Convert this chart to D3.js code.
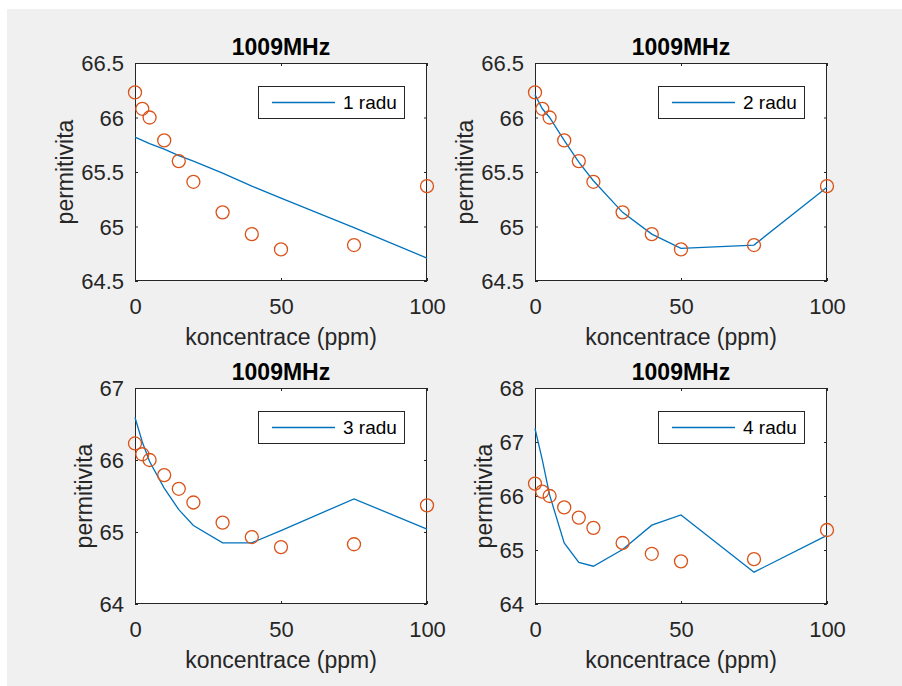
<!DOCTYPE html>
<html>
<head>
<meta charset="utf-8">
<script src="https://cdn.jsdelivr.net/npm/d3@7"></script>
<style>
  body { margin: 0; background: #fff; }
  svg { display: block; font-family: "Liberation Sans", Arial, Helvetica, sans-serif; }
</style>
</head>
<body>
<svg id="fig" width="902" height="686"></svg>
<script>
// ---------- data ----------
let konc = [0, 2.5, 5, 10, 15, 20, 30, 40, 50, 75, 100];

// naměřené body (stejné ve všech 4 grafech)
let merene = [66.23, 66.08, 66.00, 65.79, 65.60, 65.41, 65.13, 64.93, 64.79, 64.83, 65.37];

// proložení polynomem 1. až 4. řádu
let fit1 = [65.82, 65.79, 65.76, 65.71, 65.65, 65.60, 65.49, 65.37, 65.26, 64.99, 64.71];
let fit2 = [66.21, 66.08, 66.00, 65.79, 65.59, 65.42, 65.13, 64.93, 64.80, 64.83, 65.36];
let fit3 = [66.59, 66.25, 65.98, 65.61, 65.31, 65.09, 64.85, 64.85, 65.02, 65.46, 65.04];
let fit4 = [67.25, 66.67, 66.02, 65.13, 64.77, 64.70, 65.01, 65.46, 65.65, 64.59, 65.27];

let nazvy = ["1 radu", "2 radu", "3 radu", "4 radu"];
let titulek = "1009MHz";
let xPopis = "koncentrace (ppm)";
let yPopis = "permitivita";

let xTicky = [0, 50, 100];
let yDomeny = [[64.5, 66.5], [64.5, 66.5], [64, 67], [64, 68]];
let yTicky = [
  [64.5, 65, 65.5, 66, 66.5],
  [64.5, 65, 65.5, 66, 66.5],
  [64, 65, 66, 67],
  [64, 65, 66, 67, 68]
];

// ---------- vzhled ----------
let BLUE = "#0072BD";
let ORANGE = "#D95319";
let AXC = "#262626";
let FS_TICK = 22, FS_POPIS = 23, FS_LEG = 19;

let svg = d3.select("#fig");

// šedé pozadí figury
svg.append("rect")
  .attr("x", 7).attr("y", 9)
  .attr("width", 895).attr("height", 677)
  .attr("fill", "#f0f0f0");

// pozice os (levý, horní, šířka, výška)
let panely = [
  { x: 135, y: 63, w: 292, h: 218 },
  { x: 535, y: 63, w: 292, h: 218 },
  { x: 135, y: 388, w: 292, h: 216 },
  { x: 535, y: 388, w: 292, h: 216 }
];

let fity = [fit1, fit2, fit3, fit4];

function kresliGraf(p, fit, yDom, yT, nazev){
  let g = svg.append("g").attr("transform", `translate(${p.x},${p.y})`);

  let x = d3.scaleLinear().domain([0, 100]).range([0, p.w]);
  let y = d3.scaleLinear().domain(yDom).range([p.h, 0]);

  g.append("rect")
    .attr("width", p.w).attr("height", p.h)
    .attr("fill", "#fff");

  // osy - ticky dovnitř na všech stranách
  let tl = 3;
  let osaX = g.append("g").attr("transform", `translate(0,${p.h})`)
    .call(d3.axisBottom(x).tickValues(xTicky).tickSizeInner(-tl).tickSizeOuter(0).tickPadding(0).tickFormat(d => d));
  let osaXh = g.append("g")
    .call(d3.axisTop(x).tickValues(xTicky).tickSizeInner(-tl).tickSizeOuter(0).tickFormat(""));
  let osaY = g.append("g")
    .call(d3.axisLeft(y).tickValues(yT).tickSizeInner(-tl).tickSizeOuter(0).tickPadding(0).tickFormat(d => d));
  let osaYp = g.append("g").attr("transform", `translate(${p.w},0)`)
    .call(d3.axisRight(y).tickValues(yT).tickSizeInner(-tl).tickSizeOuter(0).tickFormat(""));

  [osaX, osaXh, osaY, osaYp].forEach(a => {
    a.select(".domain").remove();
    a.selectAll(".tick line").attr("stroke", AXC);
  });

  osaX.selectAll(".tick text")
    .attr("y", 33).attr("dy", null)
    .attr("fill", AXC)
    .style("font-size", FS_TICK + "px");

  osaY.selectAll(".tick text")
    .attr("x", -11).attr("dy", "0.36em")
    .attr("fill", AXC)
    .style("font-size", FS_TICK + "px");

  // rámeček
  g.append("rect")
    .attr("x", 0.5).attr("y", 0.5)
    .attr("width", p.w - 1).attr("height", p.h - 1)
    .attr("fill", "none")
    .attr("stroke", AXC)
    .attr("stroke-width", 1);

  // proložená křivka
  let body = konc.map((k, i) => ({ k, v: fit[i] }));
  g.append("path")
    .datum(body)
    .attr("fill", "none")
    .attr("stroke", BLUE)
    .attr("stroke-width", 1.3)
    .attr("d", d3.line().x(d => x(d.k)).y(d => y(d.v)));

  // naměřené body
  g.selectAll("circle.m")
    .data(konc.map((k, i) => ({ k, v: merene[i] })))
    .join("circle")
    .attr("class", "m")
    .attr("cx", d => x(d.k))
    .attr("cy", d => y(d.v))
    .attr("r", 6.5)
    .attr("fill", "none")
    .attr("stroke", ORANGE)
    .attr("stroke-width", 1.3);

  // titulek
  g.append("text")
    .attr("x", p.w / 2).attr("y", -8)
    .attr("text-anchor", "middle")
    .style("font-size", FS_POPIS + "px")
    .style("font-weight", "bold")
    .attr("fill", "#000")
    .text(titulek);

  // popis osy x
  g.append("text")
    .attr("x", p.w / 2).attr("y", p.h + 64)
    .attr("text-anchor", "middle")
    .style("font-size", FS_POPIS + "px")
    .attr("fill", AXC)
    .text(xPopis);

  // popis osy y - podle šířky popisků ticků
  let maxW = d3.max(osaY.selectAll(".tick text").nodes(), n => n.getBBox().width);
  g.append("text")
    .attr("transform", `translate(${-11 - maxW - 16},${p.h / 2}) rotate(-90)`)
    .attr("text-anchor", "middle")
    .attr("dy", "0.35em")
    .style("font-size", FS_POPIS + "px")
    .attr("fill", AXC)
    .text(yPopis);

  // legenda
  let lw = 146, lh = 32;
  let lg = g.append("g").attr("transform", `translate(${p.w - 23 - lw},${23})`);
  lg.append("rect")
    .attr("x", 0.5).attr("y", 0.5)
    .attr("width", lw).attr("height", lh)
    .attr("fill", "#fff")
    .attr("stroke", AXC)
    .attr("stroke-width", 1);
  lg.append("line")
    .attr("x1", 14).attr("x2", 77)
    .attr("y1", lh / 2 + 0.5).attr("y2", lh / 2 + 0.5)
    .attr("stroke", BLUE)
    .attr("stroke-width", 1.3);
  lg.append("text")
    .attr("x", 85).attr("y", lh / 2 + 0.5)
    .attr("dy", "0.35em")
    .style("font-size", FS_LEG + "px")
    .attr("fill", "#000")
    .text(nazev);
}

panely.forEach((p, i) => kresliGraf(p, fity[i], yDomeny[i], yTicky[i], nazvy[i]));
</script>
</body>
</html>
